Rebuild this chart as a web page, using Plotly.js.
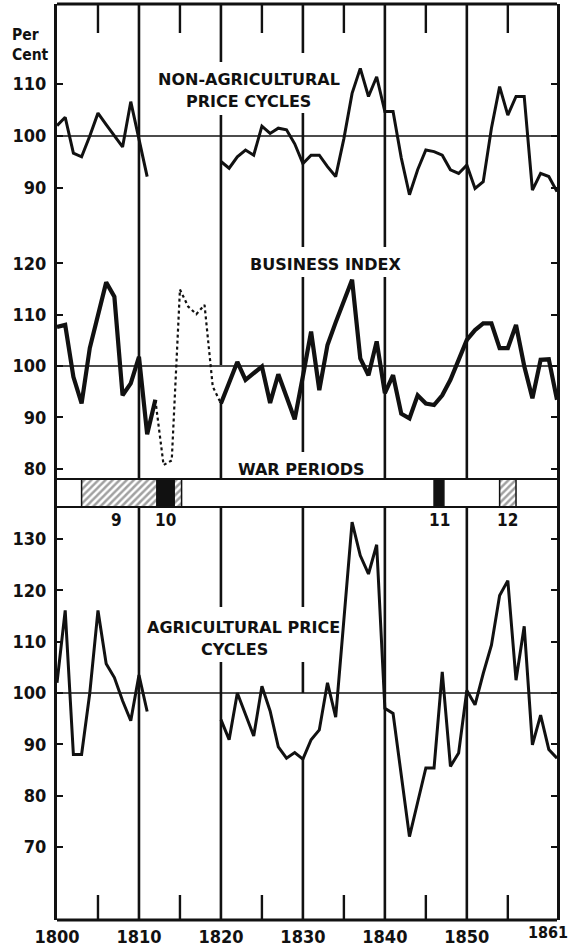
<!DOCTYPE html>
<html>
<head>
<meta charset="utf-8">
<script src="https://cdn.plot.ly/plotly-3.0.1.min.js"></script>
<style>html,body{margin:0;padding:0;background:#fff;}#chart{width:572px;height:946px;}</style>
</head>
<body>
<div id="chart"></div>
<script>
// ---------- DATA ----------
const years = [1800,1801,1802,1803,1804,1805,1806,1807,1808,1809,
  1810,1811,1812,1813,1814,1815,1816,1817,1818,1819,
  1820,1821,1822,1823,1824,1825,1826,1827,1828,1829,
  1830,1831,1832,1833,1834,1835,1836,1837,1838,1839,
  1840,1841,1842,1843,1844,1845,1846,1847,1848,1849,
  1850,1851,1852,1853,1854,1855,1856,1857,1858,1859,
  1860,1861];

const nonAgricultural = [102,103.6,96.7,96,100,104.4,102.2,100,97.9,106.6,
  99.5,92.2,null,null,null,null,null,null,null,null,
  95.1,93.8,96,97.3,96.3,101.9,100.5,101.5,101.2,98.5,
  94.7,96.3,96.3,94.1,92.2,99.5,108.2,113,107.6,111.4,
  104.7,104.7,95.8,88.7,93.5,97.3,97,96.3,93.5,92.8,
  94.4,89.9,91.2,101.5,109.5,104,107.6,107.6,89.6,92.8,
  92.2,89.3];

const businessIndex = [107.6,108,97.9,92.7,103.5,109.8,116.3,113.5,94.3,96.6,
  101.8,86.7,93.4,null,null,null,null,null,null,null,
  92.7,96.8,100.8,97.3,98.6,99.9,92.8,98.4,94,89.6,
  98,106.7,95.3,104.1,108.5,112.6,116.8,101.5,98.2,104.8,
  94.7,98.2,90.7,89.8,94.3,92.7,92.4,94.3,97.3,101.2,
  105.1,107,108.3,108.3,103.5,103.5,108,100,93.7,101.2,
  101.3,93.4];

const businessDottedYears = [1812,1813,1814,1815,1816,1817,1818,1819,1820];
const businessDotted = [93.4,80.7,81.6,114.9,111.6,110.1,111.9,96,92.7];

const agricultural = [102,116.1,88,88,100,116.1,105.7,103,98.5,94.6,
  103.5,96.4,null,null,null,null,null,null,null,null,
  94.8,90.9,100,95.8,91.6,101.3,96.5,89.5,87.3,88.4,
  87.1,90.9,92.8,102,95.3,114.3,133.3,126.8,123.2,128.9,
  97,96,84,72,78.7,85.4,85.4,104.1,85.7,88.3,
  100.5,97.7,103.8,109.3,119,121.9,102.5,113,89.9,95.7,
  89,87.3];

const warStart = [1803, 1812.2, 1814.3, 1846, 1854];
const warEnd   = [1812.2, 1814.3, 1815.2, 1847.2, 1856];
const warKind  = ['hatched','solid','hatched','solid','hatched'];
const warLabels = ['9','10','11','12'];
const warLabelYears = [1807.3, 1813.2, 1846.7, 1855];

const xTickVals = [1800,1810,1820,1830,1840,1850];
const xTickText = ['1800','1810','1820','1830','1840','1850'];
const lastYearLabel = '1861';
const topTicks = [90,100,110];
const businessTicks = [80,90,100,110,120];
const agriTicks = [70,80,90,100,110,120,130];
const decadeYears = [1810,1820,1830,1840,1850];
const halfDecadeYears = [1805,1815,1825,1835,1845,1855];

// ---------- LAYOUT GEOMETRY (pixels) ----------
const W = 572, H = 946, mT = 4, mB = 26, mL = 57, mR = 15;
const plotH = H - mT - mB;           // 916
const yBottom = H - mB;              // 920
const py = p => (yBottom - p) / plotH;   // pixel y -> paper fraction
const pxX = p => (p - mL) / (W - mL - mR); // pixel x -> paper fraction

const NUM = "'Liberation Sans Narrow','DejaVu Sans Condensed','Arial Narrow',sans-serif";
const TXT = "'DejaVu Sans',sans-serif";

// panel pixel bounds
const topPx = [4, 230], busPx = [230, 479], warPx = [479, 507], agrPx = [507, 920];
function rangeFor(pxBounds, px100, pxPerUnit) {
  return [100 - (pxBounds[1] - px100) / pxPerUnit, 100 + (px100 - pxBounds[0]) / pxPerUnit];
}

const yAxisBase = {
  showline: true, linewidth: 3, linecolor: '#111', mirror: 'ticks',
  ticks: 'inside', ticklen: 6, tickwidth: 2, tickcolor: '#111',
  showgrid: false, zeroline: false, fixedrange: true,
  tickfont: {family: NUM, size: 18, color: '#111', weight: 'bold'},
  ticklabelstandoff: 4, anchor: 'x'
};

const traces = [
  {x: years, y: agricultural, xaxis: 'x', yaxis: 'y', type: 'scatter', mode: 'lines',
   line: {color: '#111', width: 3}, connectgaps: false},
  {x: years, y: nonAgricultural, xaxis: 'x', yaxis: 'y2', type: 'scatter', mode: 'lines',
   line: {color: '#111', width: 3}, connectgaps: false},
  {x: years, y: businessIndex, xaxis: 'x', yaxis: 'y3', type: 'scatter', mode: 'lines',
   line: {color: '#111', width: 4.2}, connectgaps: false},
  {x: businessDottedYears, y: businessDotted, xaxis: 'x', yaxis: 'y3', type: 'scatter', mode: 'lines',
   line: {color: '#111', width: 2.2, dash: 'dot'}},
  {type: 'bar', orientation: 'h', xaxis: 'x', yaxis: 'y4',
   y: warStart.map(() => 0), base: warStart, x: warEnd.map((e, i) => e - warStart[i]),
   width: 1,
   marker: {
     color: warKind.map(k => k === 'solid' ? '#111' : '#fff'),
     line: {color: '#111', width: 1.5},
     pattern: {shape: warKind.map(k => k === 'hatched' ? '/' : ''), fgcolor: '#111', bgcolor: '#fff',
               size: 5, solidity: 0.5, fillmode: 'overlay'}
   }}
];

const shapes = [];
const seg = (x, p0, p1, w) => shapes.push({type: 'line', xref: 'x', yref: 'paper', x0: x, x1: x,
  y0: py(p0), y1: py(p1), line: {color: '#111', width: w}, layer: 'below'});
// decade lines with breaks
const decadeSegments = {
  1810: [[4, 479], [507, 920]],
  1820: [[4, 62], [115, 365], [402, 479], [507, 607], [662, 920]],
  1830: [[4, 53], [113, 247], [277, 452], [507, 607], [662, 693], [758, 920]],
  1840: [[4, 247], [277, 479], [507, 920]],
  1850: [[4, 479], [507, 920]]
};
decadeYears.forEach(yr => decadeSegments[yr].forEach(s => seg(yr, s[0], s[1], 2.6)));
halfDecadeYears.forEach(yr => { seg(yr, 4, 33, 2.4); seg(yr, 895, 920, 2.4); });
// frame top/bottom, war band
[[4, 3], [920, 3], [479, 2], [507, 2]].forEach(([p, w]) => shapes.push({type: 'line', xref: 'paper', yref: 'paper',
  x0: 0, x1: 1, y0: py(p), y1: py(p), line: {color: '#111', width: w}}));
// 100 reference lines
['y', 'y2', 'y3'].forEach(ax => shapes.push({type: 'line', xref: 'x', yref: ax, x0: 1800, x1: 1861,
  y0: 100, y1: 100, line: {color: '#111', width: 1.6}, layer: 'below'}));

const ann = (text, xv, p, size, opts) => Object.assign({text, x: xv, y: py(p), xref: 'x', yref: 'paper',
  showarrow: false, xanchor: 'center', yanchor: 'middle',
  font: {family: TXT, size: size, color: '#111', weight: 'bold'}}, opts || {});

const annotations = [
  ann('Per<br>Cent', -0.094, 45, 15, {xref: 'paper', xanchor: 'left', align: 'left', font: {family: NUM, size: 15.5, color: '#111', weight: 'bold'}}),
  ann('NON-AGRICULTURAL', 1823.4, 79, 16),
  ann('PRICE CYCLES', 1823.4, 101, 16),
  ann('BUSINESS INDEX', 1832.7, 264, 16),
  ann('WAR PERIODS', 1829.8, 469, 16),
  ann('AGRICULTURAL PRICE', 1822.8, 627, 16),
  ann('CYCLES', 1821.6, 649, 16),
  // right-edge year label, kept inside the page
  ann(lastYearLabel, pxX(569), 933, 16, {xref: 'paper', xanchor: 'right', borderpad: 0,
      font: {family: NUM, size: 16, color: '#111', weight: 'bold'}})
];
warLabels.forEach((t, i) => annotations.push(ann(t, warLabelYears[i], 520, 17,
  {font: {family: NUM, size: 17, color: '#111', weight: 'bold'}})));

const layout = {
  width: W, height: H, margin: {l: mL, r: mR, t: mT, b: mB, pad: 0},
  paper_bgcolor: '#fff', plot_bgcolor: '#fff', showlegend: false, hovermode: false,
  xaxis: {range: [1800, 1861], showgrid: false, zeroline: false, showline: false, ticks: '',
          tickvals: xTickVals, ticktext: xTickText, anchor: 'y', fixedrange: true,
          tickfont: {family: NUM, size: 18, color: '#111', weight: 'bold'}, ticklabelstandoff: 4},
  yaxis: Object.assign({}, yAxisBase, {domain: [py(agrPx[1]), py(agrPx[0])],
          range: rangeFor(agrPx, 693, 5.13), tickvals: agriTicks}),
  yaxis2: Object.assign({}, yAxisBase, {domain: [py(topPx[1]), py(topPx[0])],
          range: rangeFor(topPx, 136, 5.2), tickvals: topTicks}),
  yaxis3: Object.assign({}, yAxisBase, {domain: [py(busPx[1]), py(busPx[0])],
          range: rangeFor(busPx, 366, 5.13), tickvals: businessTicks}),
  yaxis4: {domain: [py(warPx[1]), py(warPx[0])], range: [-0.5, 0.5], showline: true, linewidth: 3,
           linecolor: '#111', mirror: true, showticklabels: false, ticks: '', showgrid: false,
           zeroline: false, fixedrange: true, anchor: 'x'},
  shapes: shapes, annotations: annotations
};

Plotly.newPlot('chart', traces, layout, {displayModeBar: false, staticPlot: true});
</script>
</body>
</html>
